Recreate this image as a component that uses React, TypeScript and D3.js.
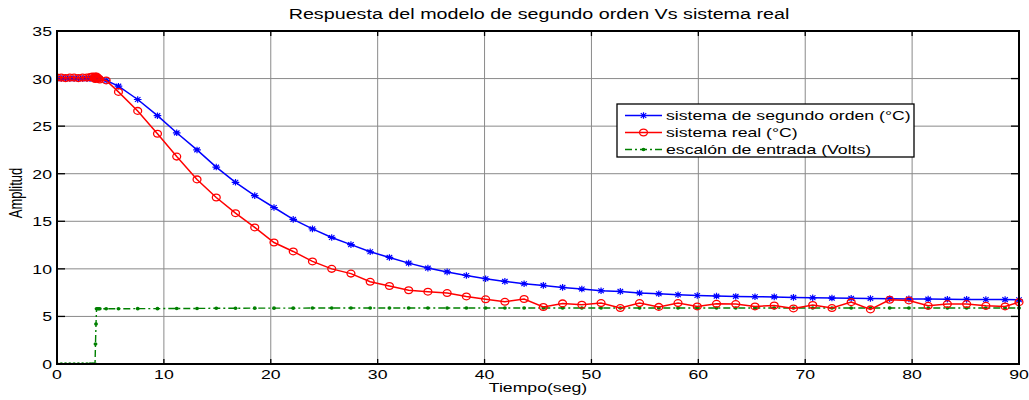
import React from 'react';
import * as d3 from 'd3';

const TITLE = 'Respuesta del modelo de segundo orden Vs sistema real';
const X_LABEL = 'Tiempo(seg)';
const Y_LABEL = 'Amplitud';
const X_TICKS = [0, 10, 20, 30, 40, 50, 60, 70, 80, 90];
const Y_TICKS = [0, 5, 10, 15, 20, 25, 30, 35];
const LEGEND_LABELS = ['sistema de segundo orden (°C)', 'sistema real (°C)', 'escalón de entrada (Volts)'];

const TIME = [
  0, 0.4, 0.8, 1.2, 1.6, 2.0, 2.4, 2.8, 3.1, 3.3, 3.5, 3.56, 3.6, 3.65, 3.7, 3.8, 3.9, 4.0,
  4.6, 5.75, 7.55, 9.4, 11.2, 13.1, 14.9, 16.7, 18.5, 20.3,
  22.1, 23.9, 25.7, 27.5, 29.3, 31.1, 32.9, 34.7, 36.5, 38.3,
  40.1, 41.9, 43.7, 45.5, 47.3, 49.1, 50.9, 52.7, 54.5, 56.3,
  58.1, 59.9, 61.7, 63.5, 65.3, 67.1, 68.9, 70.7, 72.5, 74.3,
  76.1, 77.9, 79.7, 81.5, 83.3, 85.1, 86.9, 88.7, 90,
];

const SEGUNDO_ORDEN = [
  30, 30, 30, 30, 30, 30, 30, 30, 30, 30, 30, 30, 30, 30, 30, 30, 30, 30,
  29.8, 29.2, 27.8, 26.1, 24.3, 22.5, 20.7, 19.1, 17.7, 16.45,
  15.2, 14.2, 13.3, 12.55, 11.8, 11.2, 10.6, 10.08, 9.68, 9.3,
  8.96, 8.68, 8.43, 8.26, 8.05, 7.88, 7.7, 7.63, 7.46, 7.38,
  7.28, 7.2, 7.14, 7.1, 7.07, 7.05, 7.0, 6.96, 6.93, 6.9,
  6.88, 6.86, 6.84, 6.82, 6.8, 6.79, 6.78, 6.77, 6.75,
];

const SISTEMA_REAL = [
  30.1, 30.1, 30.05, 30.1, 30.1, 30.05, 30.1, 30.1, 30.15, 30.2, 30.0, 30.2, 29.95, 30.1, 30.2, 30.1, 30.0, 29.9,
  29.8, 28.6, 26.6, 24.2, 21.8, 19.4, 17.5, 15.85, 14.35, 12.77,
  11.83, 10.78, 10.0, 9.5, 8.64, 8.2, 7.75, 7.6, 7.46, 7.1,
  6.8, 6.54, 6.83, 5.99, 6.37, 6.23, 6.4, 5.88, 6.4, 6.0,
  6.4, 6.05, 6.33, 6.3, 6.05, 6.15, 5.84, 6.2, 5.88, 6.5,
  5.74, 6.75, 6.68, 6.12, 6.3, 6.3, 6.12, 6.05, 6.5,
];

const ESCALON = [
  0, 0, 0, 0, 0, 0, 0, 0, 0, 0, 0, 0, 2.1, 4.2, 5.8, 5.8, 5.8, 5.8,
  5.8, 5.8, 5.82, 5.82, 5.84, 5.84, 5.86, 5.86, 5.87, 5.87,
  5.87, 5.88, 5.88, 5.88, 5.88, 5.88, 5.88, 5.88, 5.88, 5.88,
  5.88, 5.88, 5.88, 5.88, 5.88, 5.88, 5.88, 5.88, 5.88, 5.88,
  5.88, 5.88, 5.88, 5.88, 5.88, 5.88, 5.88, 5.88, 5.88, 5.88,
  5.88, 5.88, 5.88, 5.88, 5.88, 5.88, 5.88, 5.88, 5.88,
];

const W = 1029;
const H = 400;
const M = { left: 57, right: 1019, top: 31, bottom: 364 };
const SX = 1.36; // horizontal stretch of the original figure
const FONT = '"Liberation Sans", Arial, Helvetica, sans-serif';
const BLUE = '#0000ff';
const RED = '#ff0000';
const GREEN = '#008000';

const x = d3.scaleLinear().domain([0, 90]).range([M.left, M.right]);
const y = d3.scaleLinear().domain([0, 35]).range([M.bottom, M.top]);

function T({ x: tx, y: ty, anchor = 'start', size = 13, children, rotate = 0 }: any) {
  return (
    <text
      transform={`translate(${tx},${ty}) scale(${SX},1)${rotate ? ` rotate(${rotate})` : ''}`}
      textAnchor={anchor}
      fontFamily={FONT}
      fontSize={size}
      fill="#000"
    >
      {children}
    </text>
  );
}

const starPath = (cx: number, cy: number) => {
  const r = 3.3;
  const d = r * 0.72;
  const k = SX * 0.85;
  return `M${cx - r * k},${cy}H${cx + r * k}M${cx},${cy - r}V${cy + r}` +
    `M${cx - d * k},${cy - d}L${cx + d * k},${cy + d}M${cx - d * k},${cy + d}L${cx + d * k},${cy - d}`;
};

export default function App() {
  const line = d3.line<[number, number]>().x(d => x(d[0])).y(d => y(d[1]));
  const blue: [number, number][] = TIME.map((t, i) => [t, SEGUNDO_ORDEN[i]]);
  const red: [number, number][] = TIME.map((t, i) => [t, SISTEMA_REAL[i]]);
  const green: [number, number][] = TIME.map((t, i) => [t, ESCALON[i]]);

  const lg = { x0: 617, y0: 104, x1: 914, y1: 157 };
  const rows = [115.5, 132.5, 149.5];

  return (
    <svg width={W} height={H} style={{ position: 'absolute', left: 0, top: 0, background: '#fff' }}>
      <rect x={0} y={0} width={W} height={H} fill="#fff" />
      <defs>
        <clipPath id="plot">
          <rect x={M.left} y={M.top - 5} width={M.right - M.left + 6} height={M.bottom - M.top + 5} />
        </clipPath>
      </defs>
      {/* grid */}
      {X_TICKS.map(t => (
        <line key={'gx' + t} x1={x(t)} x2={x(t)} y1={M.top} y2={M.bottom} stroke="#8a8a8a" strokeWidth={1} />
      ))}
      {Y_TICKS.map(t => (
        <line key={'gy' + t} x1={M.left} x2={M.right} y1={y(t)} y2={y(t)} stroke="#8a8a8a" strokeWidth={1} />
      ))}
      {/* ticks */}
      {X_TICKS.map(t => (
        <g key={'tx' + t}>
          <line x1={x(t)} x2={x(t)} y1={M.bottom} y2={M.bottom - 5} stroke="#000" strokeWidth={1.3} />
          <line x1={x(t)} x2={x(t)} y1={M.top} y2={M.top + 5} stroke="#000" strokeWidth={1.3} />
        </g>
      ))}
      {Y_TICKS.map(t => (
        <g key={'ty' + t}>
          <line x1={M.left} x2={M.left + 8} y1={y(t)} y2={y(t)} stroke="#000" strokeWidth={1.3} />
          <line x1={M.right} x2={M.right - 8} y1={y(t)} y2={y(t)} stroke="#000" strokeWidth={1.3} />
        </g>
      ))}
      {/* series */}
      <g clipPath="url(#plot)">
        <path d={line(green) || ''} fill="none" stroke={GREEN} strokeWidth={1.4} strokeDasharray="7,3,2,3" />
        {green.map((d, i) => (
          <ellipse key={'g' + i} cx={x(d[0])} cy={y(d[1])} rx={1.8 * SX * 0.8} ry={1.8} fill={GREEN} />
        ))}
        <path d={line(blue) || ''} fill="none" stroke={BLUE} strokeWidth={1.5} />
        {blue.map((d, i) => (
          <path key={'b' + i} d={starPath(x(d[0]), y(d[1]))} stroke={BLUE} strokeWidth={1.2} fill="none" />
        ))}
        <path d={line(red) || ''} fill="none" stroke={RED} strokeWidth={1.5} />
        {red.map((d, i) => (
          <ellipse key={'r' + i} cx={x(d[0])} cy={y(d[1])} rx={3.4 * SX * 0.85} ry={3.4} fill="none" stroke={RED} strokeWidth={1.3} />
        ))}
      </g>
      {/* axes box */}
      <rect x={M.left} y={M.top} width={M.right - M.left} height={M.bottom - M.top} fill="none" stroke="#000" strokeWidth={2} />
      {/* tick labels */}
      {X_TICKS.map(t => (
        <T key={'lx' + t} x={x(t)} y={379} anchor="middle">{t}</T>
      ))}
      {Y_TICKS.map(t => (
        <T key={'ly' + t} x={52} y={y(t) + 5} anchor="end">{t}</T>
      ))}
      <T x={(M.left + M.right) / 2} y={392} anchor="middle">{X_LABEL}</T>
      <T x={22} y={193} anchor="middle" rotate={-90}>{Y_LABEL}</T>
      <T x={(M.left + M.right) / 2 + 1} y={19} anchor="middle" size={14.5}>{TITLE}</T>
      {/* legend */}
      <rect x={lg.x0} y={lg.y0} width={lg.x1 - lg.x0} height={lg.y1 - lg.y0} fill="#fff" stroke="#000" strokeWidth={1.3} />
      <line x1={625} x2={662} y1={rows[0]} y2={rows[0]} stroke={BLUE} strokeWidth={1.5} />
      <path d={starPath(643.5, rows[0])} stroke={BLUE} strokeWidth={1.2} fill="none" />
      <line x1={625} x2={662} y1={rows[1]} y2={rows[1]} stroke={RED} strokeWidth={1.5} />
      <ellipse cx={643.5} cy={rows[1]} rx={3.4 * SX * 0.85} ry={3.4} fill="none" stroke={RED} strokeWidth={1.3} />
      <line x1={625} x2={662} y1={rows[2]} y2={rows[2]} stroke={GREEN} strokeWidth={1.4} strokeDasharray="7,3,2,3" />
      <ellipse cx={643.5} cy={rows[2]} rx={1.8 * SX * 0.8} ry={1.8} fill={GREEN} />
      {LEGEND_LABELS.map((s, i) => (
        <T key={'lg' + i} x={666} y={rows[i] + 4.5}>{s}</T>
      ))}
    </svg>
  );
}
